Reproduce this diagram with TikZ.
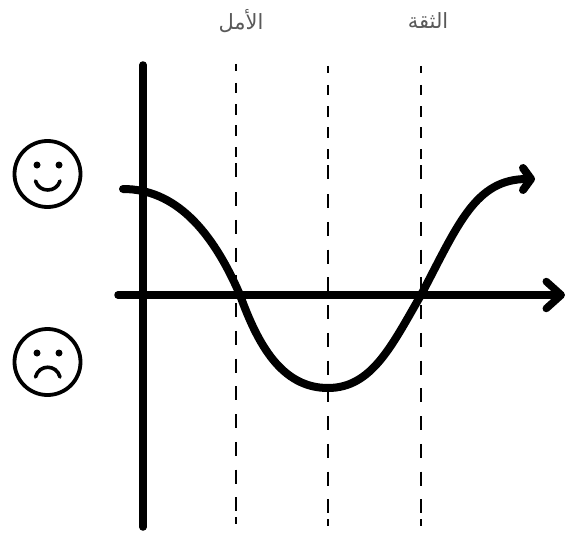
\documentclass[tikz,border=0pt]{standalone}
\usepackage{xcolor}
\usepackage{fontspec}
\usetikzlibrary{calc,positioning,arrows.meta}
\newfontfamily\arabicfont[Script=Arabic]{DejaVu Sans}
\TeXXeTstate=1
\definecolor{lbgrey}{HTML}{595959}
\begin{document}
\begin{tikzpicture}[x=1pt,y=-1pt,
  lb/.style={font=\arabicfont\fontsize{21}{25}\selectfont,text=lbgrey,inner sep=0pt},
  face/.style={draw,circle,line width=3.8pt,minimum size=66pt,inner sep=0pt},
  eye/.style={fill,circle,minimum size=7pt,inner sep=0pt},
  mouth/.style={line width=3.6pt,line cap=round},
  axis/.style={line width=7.5pt,line cap=round,-{Straight Barb[length=15pt,width=27pt,round]}},
  guide/.style={line width=1.2pt,dash pattern=on 7pt off 12pt on 10pt off 11pt on 11pt off 10pt on 11pt off 11pt on 10pt off 6pt on 14pt off 15pt on 14pt off 13.75pt on 14pt off 13.75pt on 14pt off 13.75pt on 14pt off 13.75pt on 14pt off 13.75pt on 14pt off 13.75pt on 14pt off 13.75pt on 14pt off 13.75pt on 14pt off 13.75pt on 14pt off 13.75pt on 14pt off 13.75pt on 14pt off 6pt on 7pt off 20pt}]
\useasboundingbox (0,0) rectangle (565,535);
% guides
\coordinate (g1a) at (236,64);\coordinate (g1b) at (236,525);
\coordinate (g2a) at (328,66);\coordinate (g2b) at (328,527);
\coordinate (g3a) at (421,66);\coordinate (g3b) at (421,527);
\draw[guide] (g1a) -- (g1b);\draw[guide] (g2a) -- (g2b);\draw[guide] (g3a) -- (g3b);
% labels
\node[lb] (hope) at (241,21) {\beginR الأمل\endR};
\node[lb] (trust) at (428,21) {\beginR الثقة\endR};
% axes
\coordinate (yt) at (143,65);\coordinate (yb) at (143,527);
\coordinate (xl) at (118,295);\coordinate (xr) at (565,295);
\draw[line width=7.5pt,line cap=round] (yt) -- (yb);
\draw[axis] (xl) -- (xr);
% curve
\coordinate (c0) at (123,189);\coordinate (c1) at (240,295);\coordinate (c2) at (328,388);
\coordinate (c3) at (421,295);\coordinate (c4) at (535,179);
\draw[line width=8pt,line cap=round,-{Straight Barb[length=8pt,width=22pt,round]}] (c0)
  .. controls (175,189) and (212,230) .. (c1)
  .. controls (258,345) and (282,388) .. (c2)
  .. controls (372,388) and (392,345) .. (c3)
  .. controls (458,225) and (475,179) .. (c4);
% faces
\node[face] (happy) at (47.5,174) {};
\node[eye] (he1) at (37,165) {};\node[eye] (he2) at (59,165) {};
\coordinate (hm1) at (35.5,181);\coordinate (hm2) at (60,181);
\draw[mouth] (hm1) .. controls (39,193) and (56.5,193) .. (hm2);
\node[face] (sad) at (47.5,362) {};
\node[eye] (se1) at (37,353) {};\node[eye] (se2) at (59,353) {};
\coordinate (sm1) at (35.5,377);\coordinate (sm2) at (60,377);
\draw[mouth] (sm1) .. controls (39,364) and (56.5,364) .. (sm2);
\end{tikzpicture}
\end{document}
